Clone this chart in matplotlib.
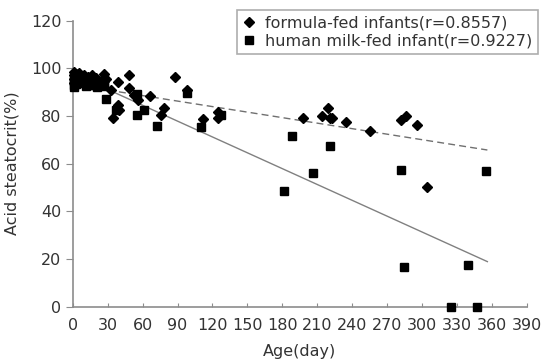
import matplotlib
matplotlib.use("Agg")
import matplotlib.pyplot as plt
import numpy as np

# formula-fed infants (diamonds)
formula_day = [1, 1, 1, 1, 3, 3, 3, 5, 5, 10, 10, 10, 13, 13, 17, 17, 20, 20,
               27, 27, 27, 29,
               33, 35, 39, 39, 40, 48, 48, 53, 56, 66, 76, 78, 88, 98, 112, 125, 125,
               198, 214, 219, 221, 223, 235, 255, 282, 286, 296, 304]
formula_val = [98.5, 97, 95.5, 94, 97.5, 96, 94.5, 98, 95, 97, 95.5, 94, 96.5, 95, 97, 95.5, 96, 94,
               97.5, 96, 94.5, 95.5,
               90.9, 79.0, 94.3, 84.6, 82.5, 97.1, 91.6, 88.8, 86.7, 88.5, 80.4, 83.2, 96.2, 90.9, 78.7, 81.8, 79.2,
               79.0, 80.1, 83.2, 79.0, 79.0, 77.6, 73.7, 78.3, 80.0, 76.2, 50.1]

# human milk-fed infants (squares)
human_day = [1, 1, 1, 1, 3, 3, 5, 11, 11, 11, 14, 14, 18, 18, 21, 21, 27, 27,
             29, 37, 55, 55, 61, 72, 98, 110, 127,
             181, 188, 206, 221, 282, 284, 325, 339, 347, 355]
human_val = [96, 94.5, 93, 92, 95, 93.5, 94, 95, 93.5, 92.5, 94.5, 93, 95, 93, 94, 92, 93.5, 92.5,
             87.1, 82.5, 89.2, 80.4, 82.5, 75.9, 89.5, 75.2, 80.4,
             48.6, 71.6, 56.0, 67.5, 57.3, 16.8, 0, 17.5, 0, 56.8]

# trend lines (start and end)
trend_day = [2, 356]
formula_trend = [93.0, 65.7]
human_trend = [97.3, 18.9]

xticks = list(range(0, 391, 30))
yticks = list(range(0, 121, 20))

text_col = "#333333"
axis_col = "#8c8c8c"

fig = plt.figure(figsize=(5.47, 3.63), dpi=100)
ax = fig.add_axes([0.1329, 0.1551, 0.8305, 0.7884])

ax.plot(trend_day, human_trend, color="#808080", lw=1.0, zorder=2)
ax.plot(trend_day, formula_trend, color="#707070", lw=1.0, ls=(0, (5, 3)), zorder=2)

ax.plot(formula_day, formula_val, ls="none", marker="D", ms=5.3, color="black",
        label="formula-fed infants(r=0.8557)", zorder=4, clip_on=False)
ax.plot(human_day, human_val, ls="none", marker="s", ms=6, color="black",
        label="human milk-fed infant(r=0.9227)", zorder=3, clip_on=False)

ax.set_xlim(0, 390)
ax.set_ylim(0, 120)
ax.set_xticks(xticks)
ax.set_yticks(yticks)

for s in ["top", "right"]:
    ax.spines[s].set_visible(False)
for s in ["left", "bottom"]:
    ax.spines[s].set_color(axis_col)
    ax.spines[s].set_linewidth(1.2)

ax.tick_params(axis="x", direction="in", length=3, color=axis_col, labelsize=11.5,
               labelcolor=text_col, pad=8)
ax.tick_params(axis="y", direction="out", length=5, color=axis_col, labelsize=11.5,
               labelcolor=text_col, pad=3)

ax.set_xlabel("Age(day)", fontsize=11.5, color=text_col, labelpad=8)
ax.set_ylabel("Acid steatocrit(%)", fontsize=11.5, color=text_col, labelpad=8)

leg = ax.legend(loc="upper right", bbox_to_anchor=(0.9835, 0.9725),
                bbox_transform=fig.transFigure, fontsize=11.5, frameon=True,
                fancybox=False, handlelength=0.8, handletextpad=0.6,
                borderpad=0.35, labelspacing=0.2, borderaxespad=0)
leg.get_frame().set_edgecolor("#999999")
leg.get_frame().set_linewidth(1.2)
for t in leg.get_texts():
    t.set_color(text_col)

fig.savefig("out.png", dpi=100)
